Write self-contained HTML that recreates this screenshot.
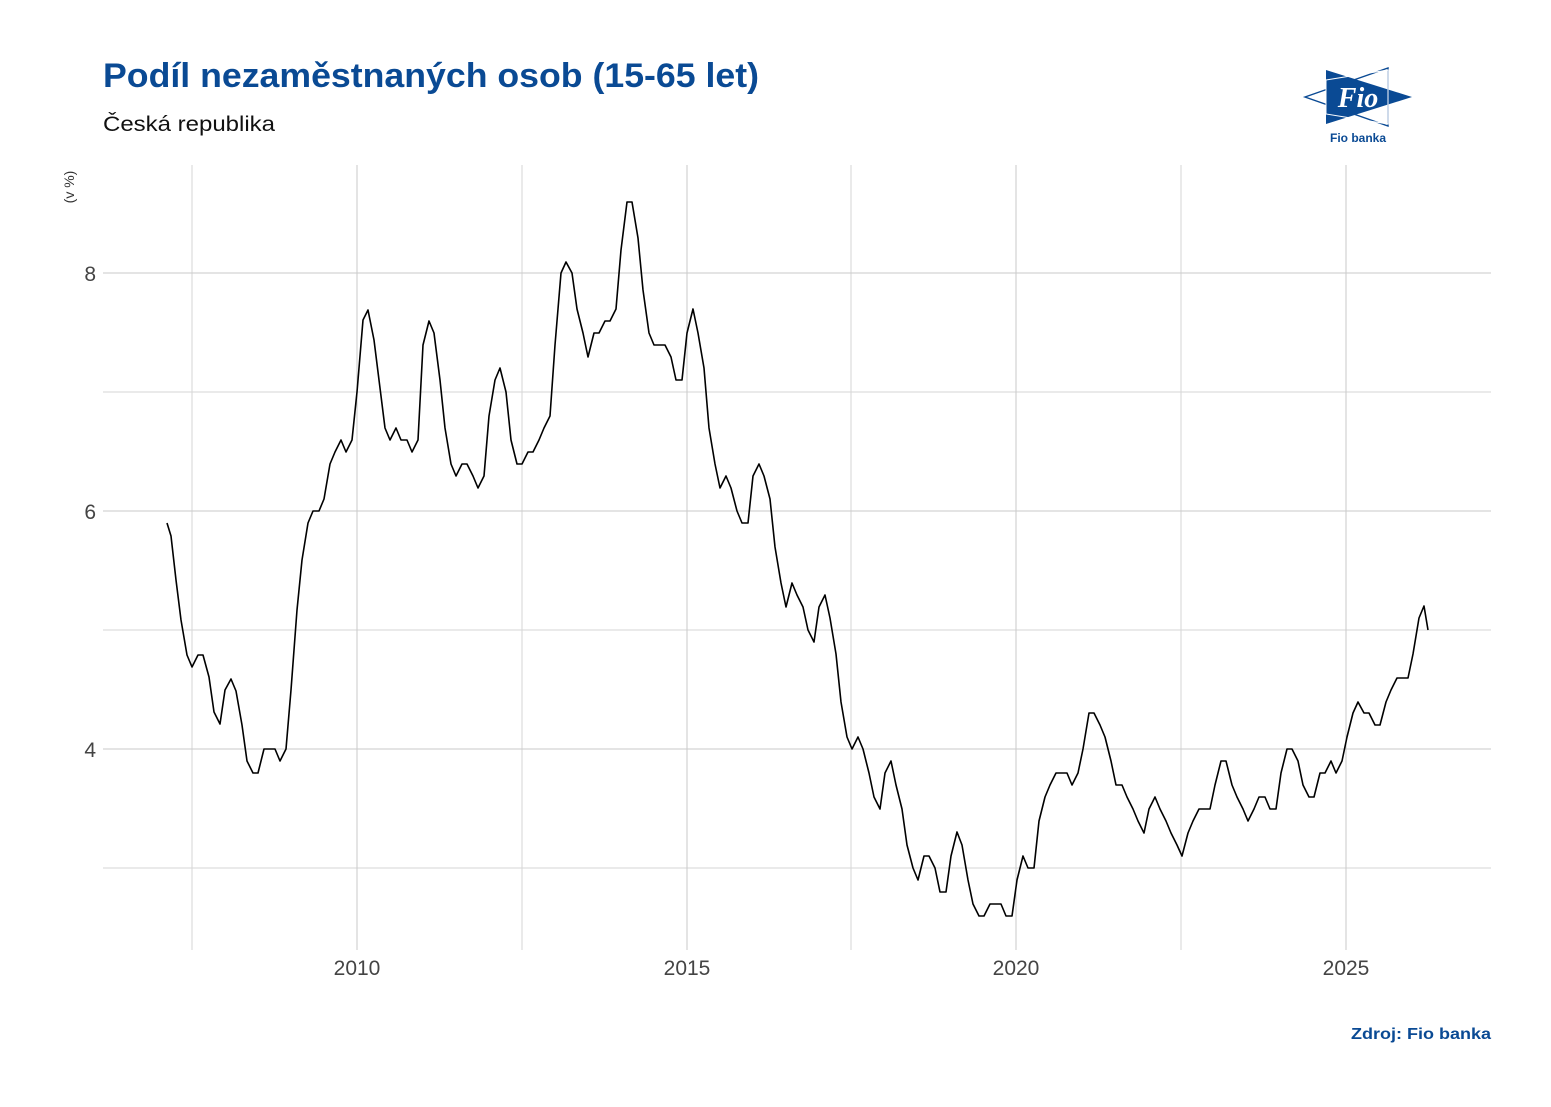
<!DOCTYPE html>
<html><head><meta charset="utf-8"><style>
body{margin:0;background:#fff;width:1551px;height:1102px;overflow:hidden;font-family:"Liberation Sans",sans-serif}
</style></head><body>
<svg width="1551" height="1102" xmlns="http://www.w3.org/2000/svg" font-family="Liberation Sans, sans-serif">
<rect width="1551" height="1102" fill="#fff"/>
<text x="103" y="87" font-size="34" font-weight="bold" fill="#0a4a94" textLength="656" lengthAdjust="spacingAndGlyphs">Podíl nezaměstnaných osob (15-65 let)</text>
<text x="103" y="131" font-size="21" fill="#111" textLength="172" lengthAdjust="spacingAndGlyphs">Česká republika</text>
<g stroke="#d6d6d6" stroke-width="1">
<line x1="103" x2="1491" y1="392" y2="392"/><line x1="103" x2="1491" y1="630" y2="630"/><line x1="103" x2="1491" y1="868" y2="868"/>
<line x1="192" x2="192" y1="165" y2="950"/><line x1="522" x2="522" y1="165" y2="950"/><line x1="851" x2="851" y1="165" y2="950"/><line x1="1181" x2="1181" y1="165" y2="950"/>
</g>
<g stroke="#cacaca" stroke-width="1">
<line x1="103" x2="1491" y1="273" y2="273"/><line x1="103" x2="1491" y1="511" y2="511"/><line x1="103" x2="1491" y1="749" y2="749"/>
<line x1="357" x2="357" y1="165" y2="950"/><line x1="687" x2="687" y1="165" y2="950"/><line x1="1016" x2="1016" y1="165" y2="950"/><line x1="1346" x2="1346" y1="165" y2="950"/>
</g>
<g font-size="21" fill="#444" text-anchor="end">
<text x="96" y="281">8</text><text x="96" y="519">6</text><text x="96" y="757">4</text></g>
<g font-size="21" fill="#444" text-anchor="middle">
<text x="357" y="975">2010</text><text x="687" y="975">2015</text><text x="1016" y="975">2020</text><text x="1346" y="975">2025</text></g>
<text transform="translate(74,187) rotate(-90)" font-size="14" fill="#333" text-anchor="middle">(v %)</text>
<polyline fill="none" stroke="#000" stroke-width="1.6" stroke-linejoin="round" points="167,523 171,536 176,580 181,620 187,655 192,667 198,655 203,655 209,677 214,712 220,724 225,690 231,679 236,691 242,725 247,761 253,773 258,773 264,749 269,749 275,749 280,761 286,749 291,690 297,610 302,560 308,523 313,511 319,511 324,499 330,464 335,452 341,440 346,452 352,440 357,392 363,320 368,310 374,340 379,380 385,428 390,440 396,428 401,440 407,440 412,452 418,440 423,345 429,321 434,333 440,380 445,428 451,464 456,476 462,464 467,464 473,476 478,488 484,476 489,416 495,380 500,368 506,392 511,440 517,464 522,464 528,452 533,452 539,440 544,428 550,416 555,345 561,273 566,262 572,273 577,309 583,333 588,357 594,333 599,333 605,321 610,321 616,309 621,250 627,202 632,202 638,238 643,290 649,333 654,345 660,345 665,345 671,357 676,380 682,380 687,333 693,309 698,333 704,368 709,428 715,464 720,488 726,476 731,488 737,511 742,523 748,523 753,476 759,464 764,476 770,499 775,547 781,583 786,607 792,583 797,595 803,607 808,630 814,642 819,607 825,595 830,618 836,654 841,702 847,737 852,749 858,737 863,749 869,773 874,797 880,809 885,773 891,761 896,785 902,809 907,845 913,868 918,880 924,856 929,856 935,868 940,892 946,892 951,856 957,832 962,845 968,880 973,904 979,916 984,916 990,904 995,904 1001,904 1006,916 1012,916 1017,880 1023,856 1028,868 1034,868 1039,821 1045,797 1050,785 1056,773 1061,773 1067,773 1072,785 1078,773 1083,749 1089,713 1094,713 1100,725 1105,737 1111,761 1116,785 1122,785 1127,797 1133,809 1138,821 1144,833 1149,809 1155,797 1160,809 1166,821 1171,833 1177,845 1182,856 1188,833 1193,821 1199,809 1204,809 1210,809 1215,785 1221,761 1226,761 1232,785 1237,797 1243,809 1248,821 1254,809 1259,797 1265,797 1270,809 1276,809 1281,773 1287,749 1292,749 1298,761 1303,785 1309,797 1314,797 1320,773 1325,773 1331,761 1336,773 1342,761 1347,737 1353,713 1358,702 1364,713 1369,713 1375,725 1380,725 1386,702 1391,690 1397,678 1402,678 1408,678 1413,654 1419,618 1424,606 1428,630"/>
<text x="1491" y="1039" font-size="16" font-weight="bold" fill="#0a4a94" text-anchor="end" textLength="140" lengthAdjust="spacingAndGlyphs">Zdroj: Fio banka</text>
<g>
<polygon points="1326,70 1412,97 1326,124" fill="#0a4a94"/>
<polygon points="1305,97 1388,68 1388,126" fill="none" stroke="#0a4a94" stroke-width="1.4"/>
<polygon points="1326,80 1388,70 1388,124 1326,114" fill="none" stroke="#fff" stroke-width="1"/>
<text x="1358" y="107" font-size="28" font-family="Liberation Serif, serif" font-style="italic" font-weight="bold" fill="#fff" text-anchor="middle">Fio</text>
<text x="1358" y="142" font-size="12" font-weight="bold" fill="#0a4a94" text-anchor="middle">Fio banka</text>
</g>
</svg>
</body></html>
